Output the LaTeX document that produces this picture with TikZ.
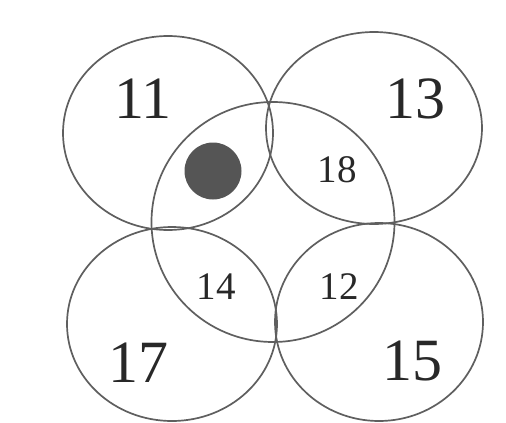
\documentclass[tikz,border=0pt]{standalone}
\usepackage{fontspec}
\setmainfont{Liberation Serif}
\usetikzlibrary{shapes.geometric}
\definecolor{ringc}{RGB}{95,95,95}
\definecolor{dotc}{RGB}{85,85,85}
\definecolor{txtc}{RGB}{40,40,40}
\begin{document}
\begin{tikzpicture}[x=1pt,y=-1pt,
  ring/.style={ellipse,draw=ringc,line width=1.7pt,inner sep=0pt,minimum width=210pt,minimum height=194pt},
  bigring/.style={ellipse,draw=ringc,line width=1.7pt,inner sep=0pt,minimum width=243pt,minimum height=240pt},
  biglbl/.style={text=txtc,inner sep=0pt,font=\fontsize{60}{60}\selectfont},
  smalllbl/.style={text=txtc,inner sep=0pt,font=\fontsize{39}{39}\selectfont}]
\useasboundingbox (0,0) rectangle (506,423);
\fill[white] (0,0) rectangle (506,423);
\node[ring] (c11) at (168,133) {};
\node[ring,minimum width=216pt,minimum height=192pt] (c13) at (374,128) {};
\node[ring] (c17) at (172,324) {};
\node[ring,minimum width=208pt,minimum height=198pt] (c15) at (379,322) {};
\node[bigring] (cmid) at (273,222) {};
\node[circle,fill=dotc,minimum size=57pt,inner sep=0pt] (dot) at (213,171) {};
\node[biglbl] (l11) at (143,99) {11};
\node[biglbl] (l13) at (415,99) {13};
\node[biglbl] (l17) at (138,363) {17};
\node[biglbl] (l15) at (412,361) {15};
\node[smalllbl] (l18) at (337,170) {18};
\node[smalllbl] (l14) at (216,287) {14};
\node[smalllbl] (l12) at (339,287) {12};
\end{tikzpicture}
\end{document}
